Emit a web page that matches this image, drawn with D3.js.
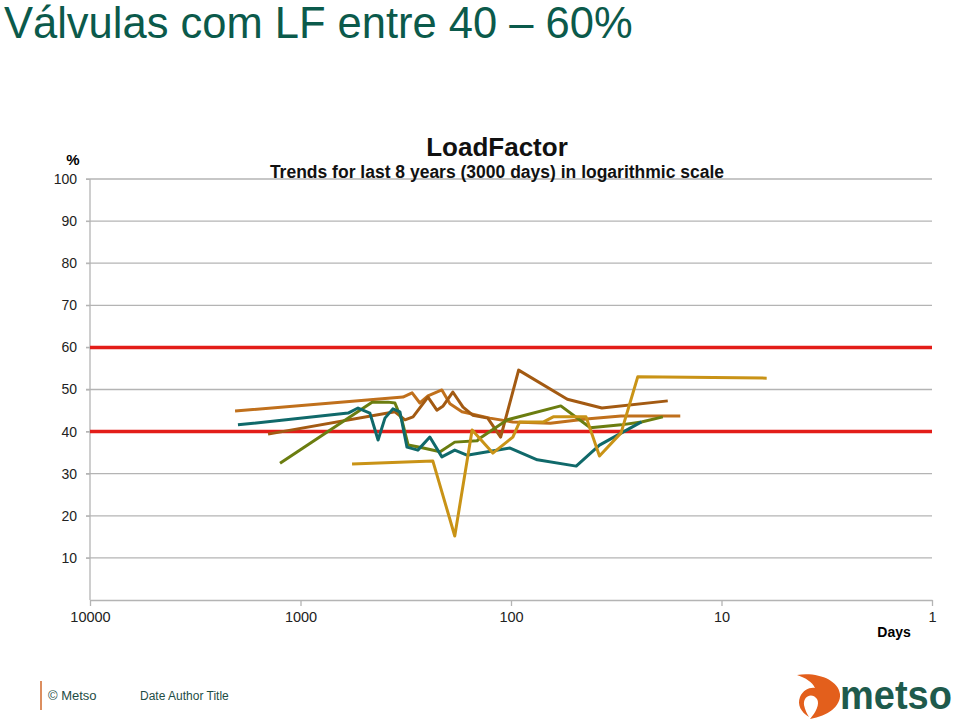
<!DOCTYPE html>
<html>
<head>
<meta charset="utf-8">
<script src="https://cdn.jsdelivr.net/npm/d3@7"></script>
<style>
  body { margin: 0; background: #fff; }
  svg { display: block; font-family: "Liberation Sans", Arial, sans-serif; }
</style>
</head>
<body>
<svg id="chart" width="960" height="720"></svg>
<script>
// --- data (days ago, load factor %) ---
const xTicks = [10000, 1000, 100, 10, 1];
const yTicks = [10, 20, 30, 40, 50, 60, 70, 80, 90, 100];
const limits = [40, 60];

const seriesOrange = [[2046,44.9],[326,48.2],[295,49.2],[271,46.8],[248,48.5],[213,49.9],[195,46.6],[171,44.7],[126,43.2],[98,42.3],[65,42.0],[44,43.0],[30,43.7],[15.7,43.7]];
const seriesBrown = [[1426,39.4],[356,44.7],[319,42.8],[292,43.5],[248,48.2],[225,45.1],[210,46.1],[189,49.4],[169,45.8],[152,43.9],[129,43.2],[112,38.7],[92,54.6],[54,47.7],[37,45.6],[18,47.3]];
const seriesTeal = [[1982,41.6],[594,44.4],[533,45.6],[468,44.4],[428,38.0],[397,43.2],[364,45.4],[337,44.7],[312,36.3],[277,35.6],[243,38.7],[213,34.0],[185,35.6],[162,34.4],[140,34.9],[101,36.1],[75,33.3],[49,31.8],[38,36.8],[24,42.3]];
const seriesOlive = [[1251,32.5],[457,47.0],[384,47.0],[356,46.8],[330,42.8],[308,36.8],[271,36.3],[217,35.2],[185,37.5],[145,37.8],[140,38.5],[104,42.8],[58,46.1],[42,40.9],[30,41.6],[24,42.3],[19,43.5]];
const seriesGold = [[569,32.3],[235,33.0],[185,15.2],[153,40.4],[122,34.9],[98,38.7],[91,42.3],[70,42.3],[63,43.5],[44,43.5],[38,34.2],[30,39.7],[25,53.0],[6.1,52.7]];

const series = [
  { data: seriesOrange, color: "#c0701c" },
  { data: seriesBrown,  color: "#a35a12" },
  { data: seriesOlive,  color: "#6b7d10" },
  { data: seriesTeal,   color: "#10696a" },
  { data: seriesGold,   color: "#c99316" }
];

const svg = d3.select("#chart");
const x = d3.scaleLog().domain([10000, 1]).range([90, 932]);
const y = d3.scaleLinear().domain([0, 100]).range([600, 179]);

// page title
svg.append("text").attr("x", 4).attr("y", 38)
  .attr("font-size", 43.5).attr("fill", "#0b5a4b")
  .text("Válvulas com LF entre 40 – 60%");

// grid
svg.append("g").selectAll("line").data(yTicks).join("line")
  .attr("x1", 86).attr("x2", 932)
  .attr("y1", d => y(d)).attr("y2", d => y(d))
  .attr("stroke", "#b4b4b4").attr("stroke-width", 1.3);

// y axis
const yAxis = svg.append("g").attr("transform", "translate(90,0)")
  .call(d3.axisLeft(y).tickValues(yTicks).tickSize(4).tickPadding(9));
yAxis.select(".domain").remove();
yAxis.selectAll(".tick line").attr("stroke", "#b4b4b4");
yAxis.selectAll("text").attr("font-size", 14).attr("fill", "#222")
  .attr("font-family", "Liberation Sans, Arial, sans-serif");
svg.append("line").attr("x1", 90).attr("x2", 90).attr("y1", y(100)).attr("y2", y(0))
  .attr("stroke", "#b4b4b4").attr("stroke-width", 1.3);

// x axis
const xAxis = svg.append("g").attr("transform", "translate(0,600)")
  .call(d3.axisBottom(x).tickValues(xTicks).tickFormat(d3.format("d")).tickSize(6).tickSizeOuter(0).tickPadding(6));
xAxis.select(".domain").attr("stroke", "#b4b4b4").attr("stroke-width", 1.3);
xAxis.selectAll(".tick line").attr("stroke", "#b4b4b4").attr("stroke-width", 1.3);
xAxis.selectAll("text").attr("font-size", 14.5).attr("fill", "#222")
  .attr("font-family", "Liberation Sans, Arial, sans-serif");

// labels
svg.append("text").attr("x", 73).attr("y", 165).attr("text-anchor", "middle")
  .attr("font-size", 15).attr("font-weight", "bold").text("%");
svg.append("text").attr("x", 894).attr("y", 637).attr("text-anchor", "middle")
  .attr("font-size", 14).attr("font-weight", "bold").text("Days");
svg.append("text").attr("x", 497).attr("y", 156).attr("text-anchor", "middle")
  .attr("font-size", 26).attr("font-weight", "bold").attr("fill", "#111").text("LoadFactor");
svg.append("text").attr("x", 497).attr("y", 178).attr("text-anchor", "middle")
  .attr("font-size", 17.5).attr("font-weight", "bold").attr("fill", "#111")
  .text("Trends for last 8 years (3000 days) in logarithmic scale");

// limit lines
svg.append("g").selectAll("line").data(limits).join("line")
  .attr("x1", 90).attr("x2", 932)
  .attr("y1", d => y(d)).attr("y2", d => y(d))
  .attr("stroke", "#e31d19").attr("stroke-width", 3.5);

// series
const line = d3.line().x(d => x(d[0])).y(d => y(d[1]));
svg.append("g").selectAll("path").data(series).join("path")
  .attr("d", d => line(d.data))
  .attr("fill", "none")
  .attr("stroke", d => d.color)
  .attr("stroke-width", 3)
  .attr("stroke-linejoin", "round");

// footer
svg.append("line").attr("x1", 41).attr("x2", 41).attr("y1", 681).attr("y2", 710)
  .attr("stroke", "#d0692a").attr("stroke-width", 1.5);
svg.append("text").attr("x", 48).attr("y", 700).attr("font-size", 13).attr("fill", "#1e4d45").text("© Metso");
svg.append("text").attr("x", 140).attr("y", 700).attr("font-size", 12).attr("fill", "#1e4d45").text("Date Author Title");

// logo
svg.append("path")
  .attr("d", "M797,675 C818,672 838,680 840,694 C841,706 828,716 810,719 C816,712 820,704 817,699 C812,692 803,696 804,705 C805,710 807,714 809,717 C801,712 797,705 800,697 C803,690 810,687 815,688 C812,682 806,678 797,675 Z")
  .attr("fill", "#e35f1c");
svg.append("text").attr("x", 840).attr("y", 709)
  .attr("font-size", 40).attr("font-weight", "bold").attr("fill", "#1e5a4c")
  .attr("textLength", 112).attr("lengthAdjust", "spacingAndGlyphs")
  .text("metso");
</script>
</body>
</html>
